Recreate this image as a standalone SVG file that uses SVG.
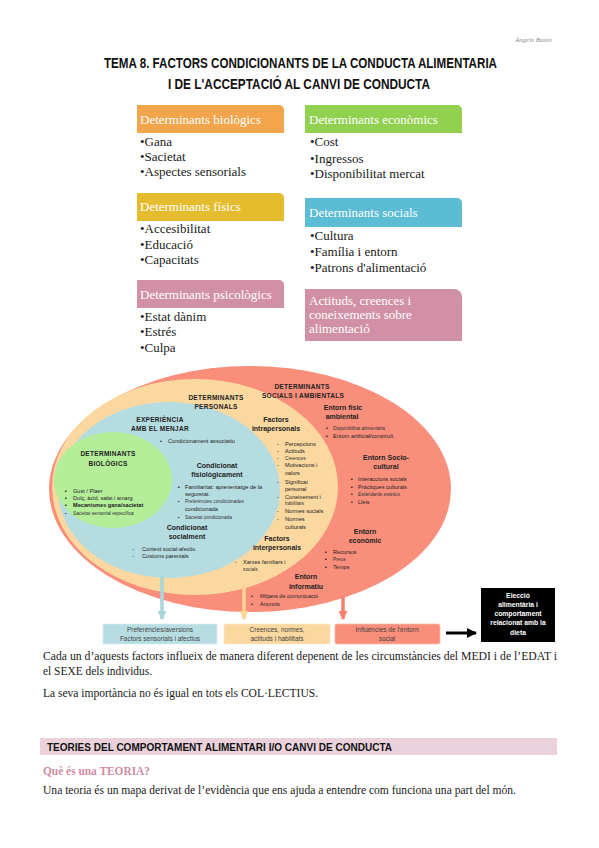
<svg xmlns="http://www.w3.org/2000/svg" width="599" height="848" viewBox="0 0 599 848">
<defs>
<style>
.ttl{font-family:"Liberation Sans",Arial,sans-serif;font-size:14px;font-weight:bold;fill:#111}
.sig{font-family:"Liberation Serif",serif;font-size:7px;font-style:italic;fill:#888}
.h{font-family:"Liberation Serif","Times New Roman",serif;font-size:13px;fill:#fff}
.b{font-family:"Liberation Serif","Times New Roman",serif;font-size:13px;fill:#1a1a1a}
.dh{font-family:"Liberation Sans",Arial,sans-serif;font-size:7px;font-weight:bold;fill:#222;text-anchor:middle}
.dc{font-family:"Liberation Sans",Arial,sans-serif;font-size:6.5px;font-weight:bold;fill:#222;text-anchor:middle;letter-spacing:0.3px}
.d{font-family:"Liberation Sans",Arial,sans-serif;font-size:5.6px;fill:#222}
.ds{font-family:"Liberation Sans",Arial,sans-serif;font-size:4.8px;fill:#333}
.bx{font-family:"Liberation Sans",Arial,sans-serif;font-size:6.5px;fill:#444;text-anchor:middle}
.bk{font-family:"Liberation Sans",Arial,sans-serif;font-size:6.8px;font-weight:bold;fill:#fff;text-anchor:middle}
.p{font-family:"Liberation Serif","Times New Roman",serif;font-size:13px;fill:#1a1a1a}
</style>
<marker id="ab" viewBox="0 0 10 10" refX="9" refY="5" markerWidth="11" markerHeight="9" markerUnits="userSpaceOnUse" orient="auto"><polygon points="0,0 10,5 0,10" fill="#A9D6DD"/></marker>
<marker id="ay" viewBox="0 0 10 10" refX="9" refY="5" markerWidth="11" markerHeight="9" markerUnits="userSpaceOnUse" orient="auto"><polygon points="0,0 10,5 0,10" fill="#F9D497"/></marker>
<marker id="ar" viewBox="0 0 10 10" refX="9" refY="5" markerWidth="11" markerHeight="9" markerUnits="userSpaceOnUse" orient="auto"><polygon points="0,0 10,5 0,10" fill="#F8806C"/></marker>
<marker id="ak" viewBox="0 0 10 10" refX="9" refY="5" markerWidth="10" markerHeight="10" markerUnits="userSpaceOnUse" orient="auto"><polygon points="0,0 10,5 0,10" fill="#000"/></marker>
</defs>
<rect width="599" height="848" fill="#fff"/>

<text class="sig" x="515" y="42">Àngels Busto</text>
<text class="ttl" x="104" y="68" textLength="393" lengthAdjust="spacingAndGlyphs">TEMA 8. FACTORS CONDICIONANTS DE LA CONDUCTA ALIMENTARIA</text>
<text class="ttl" x="168" y="89" textLength="262" lengthAdjust="spacingAndGlyphs">I DE L'ACCEPTACIÓ AL CANVI DE CONDUCTA</text>

<g id="det-biologics">
<path d="M137,105 H279 A5,5 0 0 1 284,110 V133 H137 Z" fill="#F2A54B"/>
<text class="h" x="140" y="124">Determinants biològics</text>
<text class="b" x="140" y="146">•Gana</text>
<text class="b" x="140" y="161">•Sacietat</text>
<text class="b" x="140" y="176">•Aspectes sensorials</text>
</g>
<g id="det-fisics">
<path d="M137,193 H279 A5,5 0 0 1 284,198 V221 H137 Z" fill="#E5BC2D"/>
<text class="h" x="140" y="211">Determinants físics</text>
<text class="b" x="140" y="233">•Accesibilitat</text>
<text class="b" x="140" y="249">•Educació</text>
<text class="b" x="140" y="264">•Capacitats</text>
</g>
<g id="det-psicologics">
<path d="M137,280 H279 A5,5 0 0 1 284,285 V308 H137 Z" fill="#D290A6"/>
<text class="h" x="140" y="299">Determinants psicològics</text>
<text class="b" x="140" y="321">•Estat dànim</text>
<text class="b" x="140" y="336">•Estrés</text>
<text class="b" x="140" y="352">•Culpa</text>
</g>
<g id="det-economics">
<path d="M305,105 H457 A5,5 0 0 1 462,110 V133 H305 Z" fill="#92D050"/>
<text class="h" x="309" y="124">Determinants econòmics</text>
<text class="b" x="310" y="146">•Cost</text>
<text class="b" x="310" y="163">•Ingressos</text>
<text class="b" x="310" y="178">•Disponibilitat mercat</text>
</g>
<g id="det-socials">
<path d="M305,198 H457 A5,5 0 0 1 462,203 V227 H305 Z" fill="#5CBCD4"/>
<text class="h" x="309" y="217">Determinants socials</text>
<text class="b" x="310" y="240">•Cultura</text>
<text class="b" x="310" y="256">•Família i entorn</text>
<text class="b" x="310" y="272">•Patrons d'alimentació</text>
</g>
<g id="actituds">
<path d="M305,289 H454 A8,8 0 0 1 462,297 V341 H305 Z" fill="#D290A6"/>
<text class="h" x="309" y="304.5">Actituds, creences i</text>
<text class="h" x="309" y="318.5">coneixements sobre</text>
<text class="h" x="309" y="332.5">alimentació</text>
</g>

<g id="ellipses">
<ellipse id="det-socials-ambientals" cx="250" cy="489" rx="201" ry="123" fill="#F98E7B"/>
<ellipse id="det-personals" cx="195" cy="487" rx="143" ry="108" fill="#FAD8A0"/>
<ellipse id="experiencia" cx="169" cy="490" rx="111" ry="88" fill="#B5DCE1"/>
<ellipse id="det-biologics-ell" cx="113" cy="480" rx="59" ry="48" fill="#B4EE99"/>
</g>

<g id="connectors">
<line x1="162" y1="576" x2="162" y2="619" stroke="#A9D6DD" stroke-width="3.5" marker-end="url(#ab)"/>
<line x1="244" y1="585" x2="244" y2="619" stroke="#F9D497" stroke-width="3.5" marker-end="url(#ay)"/>
<line x1="343" y1="596" x2="343" y2="619" stroke="#F8806C" stroke-width="3.5" marker-end="url(#ar)"/>
<line x1="446" y1="633" x2="476" y2="633" stroke="#000" stroke-width="3" marker-end="url(#ak)"/>
</g>

<g id="txt-socials-ambientals">
<text class="dc" x="302" y="389">DETERMINANTS</text>
<text class="dc" x="303" y="398">SOCIALS I AMBIENTALS</text>
<text class="dh" x="343" y="410">Entorn físic</text>
<text class="dh" x="342" y="419">ambiental</text>
<text class="d" x="326" y="430">▪</text><text class="ds" x="333" y="430">Disponibilitat alimentària</text>
<text class="d" x="326" y="438">▪</text><text class="d" x="333" y="438">Entorn artificial/construït</text>
<text class="dh" x="386" y="460">Entorn Socio-</text>
<text class="dh" x="386" y="469">cultural</text>
<text class="d" x="351" y="481">▪</text><text class="d" x="358" y="481">Interaccions socials</text>
<text class="d" x="351" y="489">▪</text><text class="d" x="358" y="489">Pràctiques culturals</text>
<text class="d" x="351" y="496">▪</text><text class="ds" x="358" y="496">Estàndards estètics</text>
<text class="d" x="351" y="504">▪</text><text class="d" x="358" y="504">Lleis</text>
<text class="dh" x="365" y="534">Entorn</text>
<text class="dh" x="365" y="543">econòmic</text>
<text class="d" x="325" y="554">▪</text><text class="d" x="333" y="554">Recursos</text>
<text class="d" x="325" y="561">▪</text><text class="ds" x="333" y="561">Preus</text>
<text class="d" x="325" y="569">▪</text><text class="d" x="333" y="569">Temps</text>
<text class="dh" x="306" y="579">Entorn</text>
<text class="dh" x="306" y="589">informatiu</text>
<text class="d" x="251" y="598">▪</text><text class="d" x="260" y="598">Mitjans de comunicació</text>
<text class="d" x="251" y="606">▪</text><text class="d" x="260" y="606">Anuncis</text>
</g>

<g id="txt-personals">
<text class="dc" x="216" y="400">DETERMINANTS</text>
<text class="dc" x="216" y="409">PERSONALS</text>
<text class="dh" x="276" y="422">Factors</text>
<text class="dh" x="276" y="431">intrapersonals</text>
<text class="d" x="277" y="446">-</text><text class="d" x="285" y="446">Percepcions</text>
<text class="d" x="277" y="453">-</text><text class="d" x="285" y="453">Actituds</text>
<text class="d" x="277" y="460">-</text><text class="ds" x="285" y="460">Creences</text>
<text class="d" x="277" y="467">-</text><text class="d" x="285" y="467">Motivacions i</text>
<text class="d" x="285" y="475">valors</text>
<text class="d" x="277" y="484">-</text><text class="d" x="285" y="484">Significat</text>
<text class="d" x="285" y="491">personal</text>
<text class="d" x="277" y="499">-</text><text class="d" x="285" y="499">Coneixement i</text>
<text class="ds" x="285" y="505">habilitats</text>
<text class="d" x="277" y="513">-</text><text class="d" x="285" y="513">Normes socials</text>
<text class="d" x="277" y="521">-</text><text class="d" x="285" y="521">Normes</text>
<text class="d" x="285" y="529">culturals</text>
<text class="dh" x="277" y="541">Factors</text>
<text class="dh" x="277" y="550">interpersonals</text>
<text class="d" x="235" y="564">-</text><text class="d" x="243" y="564">Xarxes familiars i</text>
<text class="ds" x="243" y="571">socials</text>
</g>

<g id="txt-experiencia">
<text class="dc" x="160" y="422">EXPERIÈNCIA</text>
<text class="dc" x="160" y="431">AMB EL MENJAR</text>
<text class="d" x="160" y="443">•</text><text class="d" x="168" y="443">Condicionament associatiu</text>
<text class="dh" x="217" y="468">Condicionat</text>
<text class="dh" x="217" y="477">fisiològicament</text>
<text class="d" x="178" y="489">▪</text><text class="d" x="185" y="489">Familiaritat: aprenentatge de la</text>
<text class="d" x="185" y="495.5">seguretat.</text>
<text class="ds" x="178" y="503">▪</text><text class="ds" x="185" y="503">Preferències condicionades</text>
<text class="d" x="185" y="511">condicionada</text>
<text class="ds" x="178" y="519">▪</text><text class="ds" x="185" y="519">Sacietat condicionada</text>
<text class="dh" x="187" y="530">Condicionat</text>
<text class="dh" x="187" y="539">socialment</text>
<text class="d" x="132" y="551">-</text><text class="d" x="142" y="551">Context social-afectiu</text>
<text class="d" x="132" y="558">-</text><text class="d" x="142" y="558">Costums parentals</text>
</g>

<g id="txt-biologics">
<text class="dc" x="108" y="456">DETERMINANTS</text>
<text class="dc" x="108" y="466">BIOLÒGICS</text>
<text class="d" x="65" y="493">▪</text><text class="d" x="73" y="493">Gust / Plaer</text>
<text class="d" x="65" y="500">▪</text><text class="d" x="73" y="500">Dolç, àcid, salat i amarg</text>
<text class="d" x="65" y="507">▪</text><text class="d" x="73" y="507" font-weight="bold">Mecanismes gana/sacietat</text>
<text class="ds" x="65" y="515">▪</text><text class="ds" x="73" y="515">Sacietat sensorial específica</text>
</g>

<g id="box-preferencies">
<rect x="103" y="624" width="114" height="20" fill="#B7DDE3" stroke="#D5ECEF" stroke-width="0.8"/>
<text class="bx" x="160" y="632">Preferències/aversions</text>
<text class="bx" x="160" y="641">Factors sensorials i afectius</text>
</g>
<g id="box-creences">
<rect x="224" y="624" width="106" height="20" fill="#FAD8A0" stroke="#FCE8C6" stroke-width="0.8"/>
<text class="bx" x="277" y="632">Creences, normes,</text>
<text class="bx" x="277" y="641">actituds i habilitats</text>
</g>
<g id="box-influencies">
<rect x="335" y="624" width="105" height="20" rx="2" fill="#F98E7B" stroke="#FBB7AA" stroke-width="0.8"/>
<text class="bx" x="387" y="632">Influències de l'entorn</text>
<text class="bx" x="387" y="641">social</text>
</g>
<g id="box-eleccio">
<rect x="481" y="588" width="74" height="54" fill="#000"/>
<text class="bk" x="518" y="598">Elecció</text>
<text class="bk" x="518" y="607">alimentària i</text>
<text class="bk" x="518" y="616">comportament</text>
<text class="bk" x="518" y="625">relacionat amb la</text>
<text class="bk" x="518" y="635">dieta</text>
</g>

<text class="p" x="43" y="660" font-size="12" textLength="514" lengthAdjust="spacingAndGlyphs" style="font-size:12px">Cada un d’aquests factors influeix de manera diferent depenent de les circumstàncies del MEDI i de l’EDAT i</text>
<text class="p" x="43" y="675" textLength="109" lengthAdjust="spacingAndGlyphs">el SEXE dels individus.</text>
<text class="p" x="43" y="697" textLength="275" lengthAdjust="spacingAndGlyphs">La seva importància no és igual en tots els COL·LECTIUS.</text>
<rect x="40" y="738" width="517" height="17" fill="#EAD1DC"/>
<text x="47" y="751" font-family="'Liberation Sans',Arial,sans-serif" font-size="11" font-weight="bold" fill="#111" textLength="345" lengthAdjust="spacingAndGlyphs">TEORIES DEL COMPORTAMENT ALIMENTARI I/O CANVI DE CONDUCTA</text>
<text x="43" y="775" font-family="'Liberation Serif',serif" font-size="13" font-weight="bold" fill="#D08DA3" textLength="107" lengthAdjust="spacingAndGlyphs">Què és una TEORIA?</text>
<text class="p" x="43" y="794" textLength="473" lengthAdjust="spacingAndGlyphs">Una teoria és un mapa derivat de l’evidència que ens ajuda a entendre com funciona una part del món.</text>
</svg>
